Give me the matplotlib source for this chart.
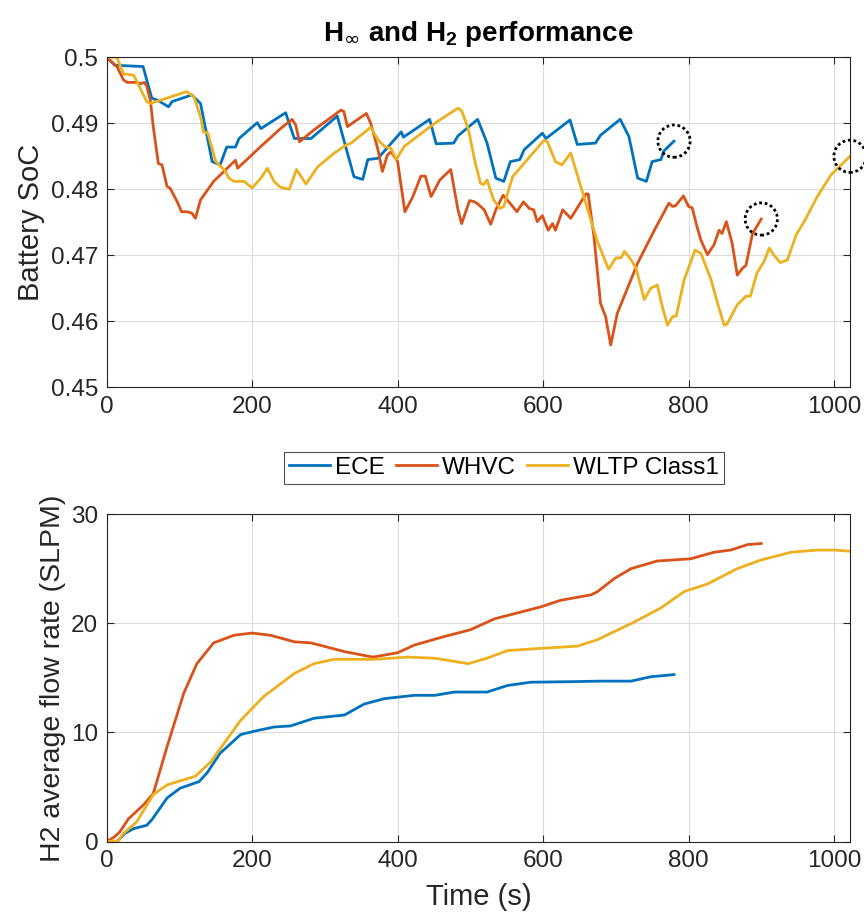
import numpy as np
import matplotlib
matplotlib.use('Agg')
import matplotlib.pyplot as plt

plt.rcParams['font.family'] = ['Liberation Sans', 'DejaVu Sans']
plt.rcParams['mathtext.fontset'] = 'custom'
plt.rcParams['mathtext.rm'] = 'DejaVu Sans'
plt.rcParams['mathtext.bf'] = 'Liberation Sans:bold'

# ---- 电池 SoC 数据 ----
ece_t = [0, 11, 50, 62, 70, 85, 90, 117, 129, 145, 156, 165, 177, 182, 207, 212, 246, 258, 281, 317,
         340, 352, 359, 373, 405, 408, 444, 453, 477, 483, 510, 523, 535, 546, 555, 568, 574, 599, 604,
         637, 647, 672, 679, 706, 718, 730, 742, 750, 762, 766, 780]
ece_soc = [0.5, 0.4988, 0.4986, 0.4938, 0.4935, 0.4925, 0.4933, 0.4943, 0.4930, 0.4842, 0.4837, 0.4864,
           0.4864, 0.4877, 0.4901, 0.4892, 0.4916, 0.4877, 0.4877, 0.4911, 0.4819, 0.4815, 0.4845, 0.4847,
           0.4887, 0.4879, 0.4906, 0.4869, 0.4870, 0.4881, 0.4906, 0.4870, 0.4817, 0.4812, 0.4842, 0.4845,
           0.4860, 0.4885, 0.4877, 0.4905, 0.4868, 0.4870, 0.4882, 0.4906, 0.4880, 0.4817, 0.4812, 0.4842,
           0.4845, 0.4858, 0.4873]

whvc_t = [0, 14, 23, 28, 41, 46, 52, 55, 60, 64, 71, 76, 83, 87, 97, 103, 110, 117, 122, 129, 147, 177,
          180, 212, 239, 255, 260, 265, 285, 322, 326, 331, 357, 363, 373, 379, 386, 391, 400, 410, 421,
          432, 438, 446, 458, 473, 483, 488, 499, 506, 510, 519, 528, 535, 545, 553, 564, 573, 581, 587,
          592, 599, 607, 613, 617, 627, 638, 659, 662, 670, 679, 686, 693, 702, 730, 753, 773, 778, 782,
          793, 800, 805, 811, 817, 826, 835, 842, 846, 852, 860, 867, 874, 879, 888, 900]
whvc_soc = [0.5, 0.4986, 0.4966, 0.4962, 0.4962, 0.4960, 0.4962, 0.4956, 0.4935, 0.4895, 0.4839, 0.4837,
            0.4804, 0.4802, 0.4781, 0.4766, 0.4766, 0.4764, 0.4756, 0.4784, 0.4812, 0.4844, 0.4832, 0.4865,
            0.4892, 0.4906, 0.4897, 0.4872, 0.4890, 0.4920, 0.4918, 0.4895, 0.4915, 0.4900, 0.4860, 0.4827,
            0.4852, 0.4857, 0.4842, 0.4766, 0.4789, 0.4820, 0.4820, 0.4789, 0.4814, 0.4830, 0.4769, 0.4748,
            0.4783, 0.4781, 0.4778, 0.4769, 0.4747, 0.4769, 0.4791, 0.4781, 0.4766, 0.4781, 0.4771, 0.4769,
            0.4751, 0.4760, 0.4738, 0.4748, 0.4738, 0.4769, 0.4756, 0.4793, 0.4793, 0.4728, 0.4627, 0.4607,
            0.4564, 0.4612, 0.4688, 0.4738, 0.4779, 0.4774, 0.4775, 0.4790, 0.4774, 0.4772, 0.4746, 0.4723,
            0.4701, 0.4716, 0.4738, 0.4733, 0.4751, 0.4718, 0.4670, 0.4680, 0.4685, 0.4733, 0.4755]

wltp_t = [0, 14, 23, 37, 55, 60, 110, 120, 129, 133, 139, 150, 162, 168, 175, 189, 200, 212, 221, 230,
          239, 251, 261, 274, 290, 313, 329, 336, 363, 373, 382, 391, 398, 409, 451, 483, 488, 497, 507,
          514, 518, 523, 532, 541, 546, 558, 601, 606, 617, 626, 638, 656, 674, 690, 700, 707, 712, 721,
          728, 739, 748, 757, 764, 771, 778, 783, 794, 809, 817, 831, 840, 849, 853, 867, 879, 885, 894,
          904, 911, 917, 926, 936, 948, 959, 977, 996, 1022]
wltp_soc = [0.5, 0.5, 0.4975, 0.4973, 0.4933, 0.4930, 0.4948, 0.4940, 0.4910, 0.4887, 0.4885, 0.4842,
            0.4829, 0.4817, 0.4812, 0.4812, 0.4802, 0.4817, 0.4832, 0.4812, 0.4803, 0.4800, 0.4830, 0.4808,
            0.4834, 0.4855, 0.4867, 0.4870, 0.4894, 0.4875, 0.4865, 0.4862, 0.4845, 0.4865, 0.4900, 0.4923,
            0.4919, 0.4892, 0.4839, 0.4809, 0.4807, 0.4814, 0.4784, 0.4771, 0.4774, 0.4819, 0.4874, 0.4872,
            0.4842, 0.4837, 0.4855, 0.4789, 0.4723, 0.4679, 0.4696, 0.4696, 0.4706, 0.4693, 0.4680, 0.4633,
            0.4650, 0.4655, 0.4622, 0.4594, 0.4607, 0.4608, 0.4663, 0.4708, 0.4703, 0.4663, 0.4627, 0.4594,
            0.4596, 0.4625, 0.4638, 0.4638, 0.4673, 0.4691, 0.4711, 0.4701, 0.4689, 0.4693, 0.4731, 0.4751,
            0.4789, 0.4822, 0.4850]

# ---- H2 平均流量数据 ----
ece_ft = [0, 14, 25, 37, 55, 62, 83, 101, 127, 138, 156, 184, 202, 230, 253, 285, 327, 354, 382, 423,
          451, 478, 523, 551, 583, 638, 679, 721, 748, 780]
ece_flow = [0, 0, 0.76, 1.2, 1.5, 2.0, 4.0, 4.9, 5.5, 6.3, 8.1, 9.8, 10.1, 10.5, 10.6, 11.3, 11.6, 12.6,
            13.1, 13.4, 13.4, 13.7, 13.7, 14.3, 14.6, 14.65, 14.7, 14.7, 15.1, 15.3]

whvc_ft = [0, 11, 18, 30, 51, 64, 83, 106, 124, 147, 175, 200, 225, 258, 281, 327, 366, 400, 423, 465,
           500, 533, 597, 624, 666, 675, 698, 721, 757, 803, 835, 858, 881, 900]
whvc_flow = [0, 0.46, 0.9, 2.1, 3.4, 4.4, 8.7, 13.6, 16.3, 18.2, 18.9, 19.1, 18.9, 18.3, 18.2, 17.4, 16.9,
             17.3, 18.0, 18.8, 19.4, 20.4, 21.5, 22.1, 22.6, 22.9, 24.1, 25.0, 25.7, 25.9, 26.5, 26.7,
             27.2, 27.3]

wltp_ft = [0, 16, 23, 41, 64, 83, 122, 143, 184, 216, 258, 285, 313, 368, 414, 451, 497, 523, 551, 597,
           647, 675, 725, 762, 794, 826, 867, 900, 941, 977, 1000, 1022]
wltp_flow = [0, 0.1, 0.76, 1.8, 4.3, 5.2, 6.0, 7.3, 11.1, 13.3, 15.4, 16.3, 16.7, 16.7, 16.9, 16.8, 16.3,
             16.8, 17.5, 17.7, 17.9, 18.5, 20.1, 21.4, 22.9, 23.6, 25.0, 25.8, 26.5, 26.7, 26.7, 26.6]

labels = ['ECE', 'WHVC', 'WLTP Class1']
colors = ['#0072BD', '#D95319', '#EDB120']

fig = plt.figure(figsize=(8.64, 9.23), dpi=100)
ax1 = fig.add_axes([0.1235, 0.5804, 0.8603, 0.3575])
ax2 = fig.add_axes([0.1235, 0.0881, 0.8603, 0.355])

soc_data = [(ece_t, ece_soc), (whvc_t, whvc_soc), (wltp_t, wltp_soc)]
for (t, s), c, lab in zip(soc_data, colors, labels):
    ax1.plot(t, s, color=c, lw=2, label=lab)
    # 终点处的虚线圆圈
    ax1.scatter([t[-1]], [s[-1]], s=540, facecolors='none', edgecolors='k',
                linewidths=2, linestyles=(0, (1, 1)), zorder=5, clip_on=False)

flow_data = [(ece_ft, ece_flow), (whvc_ft, whvc_flow), (wltp_ft, wltp_flow)]
for (t, f), c, lab in zip(flow_data, colors, labels):
    ax2.plot(t, f, color=c, lw=2, label=lab)

xmax = wltp_t[-1]
ax1.set_xlim(0, xmax)
ax1.set_ylim(0.45, 0.5)
ax1.set_yticks([0.45, 0.46, 0.47, 0.48, 0.49, 0.5])
ax1.set_yticklabels(['0.45', '0.46', '0.47', '0.48', '0.49', '0.5'])
ax2.set_xlim(0, xmax)
ax2.set_ylim(0, 30)
ax2.set_yticks([0, 10, 20, 30])

for ax in (ax1, ax2):
    ax.set_xticks([0, 200, 400, 600, 800, 1000])
    ax.grid(True, color='#dcdcdc', lw=0.8)
    ax.tick_params(direction='in', top=True, right=True, labelsize=17.5, colors='#262626',
                   length=5, pad=6)
    for sp in ax.spines.values():
        sp.set_color('#262626')
        sp.set_linewidth(0.8)

ax1.set_ylabel('Battery SoC', fontsize=21, color='#262626', labelpad=4)
ax2.set_ylabel('H2 average flow rate (SLPM)', fontsize=20.5, color='#262626', labelpad=4)
ax2.set_xlabel('Time (s)', fontsize=21, color='#262626', labelpad=8)
ax1.set_title(r'H$_{\mathrm{\infty}}$ and H$_{\mathbf{2}}$ performance', fontsize=20,
              fontweight='bold', pad=12)

leg = fig.legend(*ax2.get_legend_handles_labels(), loc='center', bbox_to_anchor=(0.583, 0.493),
                 ncol=3, fontsize=17.5, frameon=True, fancybox=False, edgecolor='#262626',
                 handlelength=1.7, handletextpad=0.2, columnspacing=0.45, borderpad=0.2,
                 borderaxespad=0)
leg.get_frame().set_linewidth(0.8)

fig.savefig('out.png', dpi=100)
